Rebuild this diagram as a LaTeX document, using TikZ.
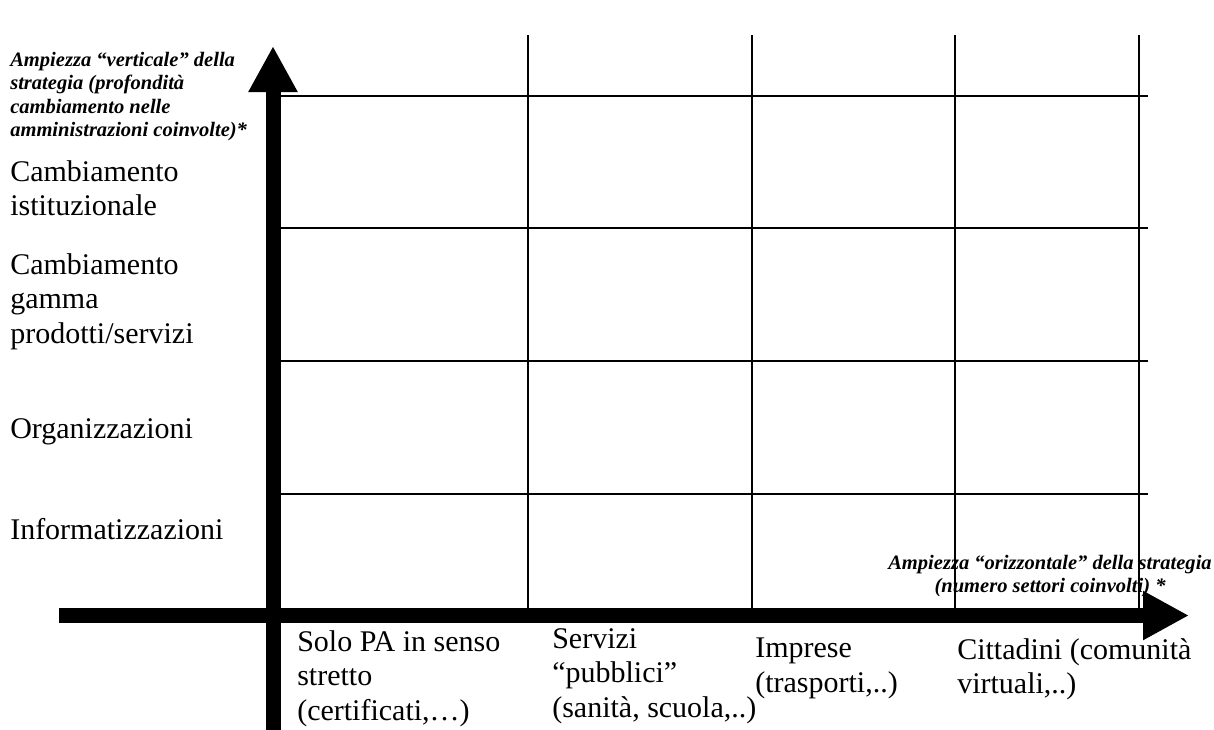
\documentclass[tikz,border=0pt]{standalone}
\usepackage{fontspec}
\setmainfont{Liberation Serif}
\usetikzlibrary{arrows.meta}

\tikzset{
  riga/.style={anchor=north west, inner sep=0pt, align=left,
    font=\fontsize{22.5}{25.9}\selectfont},
  asselab/.style={inner sep=0pt,
    font=\fontsize{15.4}{17.5}\selectfont\bfseries\itshape},
  griglia/.style={line width=1.1pt},
  asse/.style={line width=11.25pt, -{Triangle[width=34.5pt,length=34.5pt]}},
}

\begin{document}
\begin{tikzpicture}[x=0.75pt, y=-0.75pt]
        \useasboundingbox (0,0) rectangle (1214,729);

        % Etichette dell'asse verticale
        \node[asselab, anchor=north west, align=left] (avert) at (10,52)
          {Ampiezza “verticale” della\\strategia (profondità\\cambiamento nelle\\amministrazioni coinvolte)*};
        \node[riga] (istit) at (10,160) {Cambiamento\\istituzionale};
        \node[riga] (gamma) at (10,253) {Cambiamento\\gamma\\prodotti/servizi};
        \node[riga] (organ) at (10,418) {Organizzazioni};
        \node[riga] (inform) at (10,518) {Informatizzazioni};

        % Etichette dell'asse orizzontale
        \node[asselab, anchor=north, align=center] (aoriz) at (1050,555)
          {Ampiezza “orizzontale” della strategia\\(numero settori coinvolti) *};
        \node[riga] (solo) at (297,630) {Solo PA in senso\\stretto\\(certificati,…)};
        \node[riga] (serv) at (552,628) {Servizi\\“pubblici”\\(sanità, scuola,..)};
        \node[riga] (impr) at (755,638) {Imprese\\(trasporti,..)};
        \node[riga] (citt) at (957,638) {Cittadini (comunità\\virtuali,..)};

        % Griglia: colonne e righe
        \foreach \x in {528,752,955,1139} \draw[griglia] (\x,35) -- (\x,612);
        \foreach \y in {96,228,361,494} \draw[griglia] (273,\y) -- (1148,\y);

        % Assi con le frecce
        \coordinate (vbasso) at (273,735);
        \coordinate (valto) at (273,46);
        \coordinate (osx) at (59,615.5);
        \coordinate (odx) at (1189,615.5);
        \draw[asse] (vbasso) -- (valto);
        \draw[asse] (osx) -- (odx);

\end{tikzpicture}
\end{document}
